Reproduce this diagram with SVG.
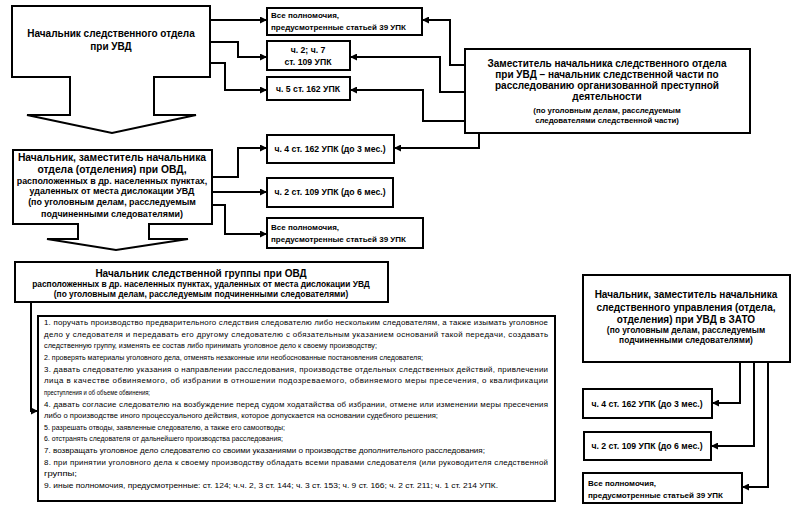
<svg xmlns="http://www.w3.org/2000/svg" width="800" height="517" viewBox="0 0 800 517">
<style>
.box{fill:#fff;stroke:#000;stroke-width:2}
.conn{fill:none;stroke:#000;stroke-width:2;marker-end:url(#ah)}
text{font-family:"Liberation Sans",Arial,sans-serif;font-weight:bold;fill:#000}
.title{font-size:10px;text-anchor:middle}
.sub{font-size:7.8px;text-anchor:middle}
.sm{font-size:8px}
.smc{font-size:8.7px;text-anchor:middle}
.list{font-size:7.9px;font-weight:normal}
</style>
<defs>
<marker id="ah" viewBox="0 0 10 10" refX="10" refY="5" markerWidth="8" markerHeight="7" markerUnits="userSpaceOnUse" orient="auto"><path d="M0,0 L10,5 L0,10 Z" fill="#000"/></marker>
</defs>
<rect width="800" height="517" fill="#fff"/>

<g id="connectors">
<path class="conn" d="M210,20 H267"/>
<path class="conn" d="M210,42 H238 V57 H267"/>
<path class="conn" d="M210,63 H225 V90 H267"/>
<path class="conn" d="M465,65 H450 V20 H422"/>
<path class="conn" d="M465,92 H440 V57 H350"/>
<path class="conn" d="M465,121 H423 V90 H350"/>
<path class="conn" d="M479,133 V148 H394"/>
<path class="conn" d="M212,177 H238 V148 H267"/>
<path class="conn" d="M212,192 H267"/>
<path class="conn" d="M212,205 H225 V234 H267"/>
<path class="conn" d="M31,302 V411 H38"/>
<path class="conn" d="M740,362 V403 H712"/>
<path class="conn" d="M754,362 V446 H711"/>
<path class="conn" d="M768,362 V487 H742"/>
</g>

<g id="node-head">
<path class="box" d="M12,6 H210 V77 H154 V115 H196 L112,133 L27,115 H70 V77 H12 Z"/>
<text class="title" x="111" y="37">Начальник следственного отдела</text>
<text class="title" x="111" y="50">при УВД</text>
</g>

<g id="node-all1">
<rect class="box" x="267" y="8" width="155" height="27"/>
<text class="sm" x="271" y="18">Все полномочия,</text>
<text class="sm" x="271" y="30">предусмотренные статьей 39 УПК</text>
</g>
<g id="node-109a">
<rect class="box" x="267" y="41" width="83" height="29"/>
<text class="smc" x="308" y="53">ч. 2; ч. 7</text>
<text class="smc" x="308" y="65">ст. 109 УПК</text>
</g>
<g id="node-162a">
<rect class="box" x="267" y="77" width="83" height="23"/>
<text class="smc" x="308" y="92">ч. 5 ст. 162 УПК</text>
</g>

<g id="node-deputy">
<rect class="box" x="465" y="49" width="285" height="84"/>
<text class="title" x="607" y="67">Заместитель начальника следственного отдела</text>
<text class="title" x="607" y="78">при УВД – начальник следственной части по</text>
<text class="title" x="607" y="89">расследованию организованной преступной</text>
<text class="title" x="607" y="100">деятельности</text>
<text class="sub" x="607" y="113">(по уголовным делам, расследуемым</text>
<text class="sub" x="607" y="123">следователями следственной части)</text>
</g>

<g id="node-ovd">
<path class="box" d="M13,150 H212 V224 H149 V239 H188 L116,250 L47,239 H78 V224 H13 Z"/>
<text class="title" x="112" y="161" style="font-size:10.3px">Начальник, заместитель начальника</text>
<text class="title" x="112" y="173" style="font-size:10.3px">отдела (отделения) при ОВД,</text>
<text class="sub" x="112" y="184" style="font-size:8.9px">расположенных в др. населенных пунктах,</text>
<text class="sub" x="112" y="194" style="font-size:8.9px">удаленных от места дислокации УВД</text>
<text class="sub" x="112" y="205" style="font-size:8.9px">(по уголовным делам, расследуемым</text>
<text class="sub" x="112" y="217" style="font-size:8.9px">подчиненными следователями)</text>
</g>

<g id="node-162b">
<rect class="box" x="267" y="135" width="127" height="28"/>
<text class="smc" x="330" y="152">ч. 4 ст. 162 УПК (до 3 мес.)</text>
</g>
<g id="node-109b">
<rect class="box" x="267" y="178" width="126" height="29"/>
<text class="smc" x="330" y="195">ч. 2 ст. 109 УПК (до 6 мес.)</text>
</g>
<g id="node-all2">
<rect class="box" x="267" y="218" width="156" height="30"/>
<text class="sm" x="271" y="230">Все полномочия,</text>
<text class="sm" x="271" y="242">предусмотренные статьей 39 УПК</text>
</g>

<g id="node-group">
<rect class="box" x="15" y="262" width="373" height="40"/>
<text class="title" x="201" y="277">Начальник следственной группы при ОВД</text>
<text class="sub" x="201" y="287" style="font-size:8.4px">расположенных в др. населенных пунктах, удаленных от места дислокации УВД</text>
<text class="sub" x="201" y="297" style="font-size:8.4px">(по уголовным делам, расследуемым подчиненными следователями)</text>
</g>

<g id="node-list">
<rect class="box" x="38" y="316" width="517" height="185"/>
<text class="list" x="44" y="325" textLength="504" lengthAdjust="spacing">1.  поручать производство предварительного следствия следователю либо нескольким следователям, а также изымать уголовное</text>
<text class="list" x="44" y="336.6" textLength="504" lengthAdjust="spacing">дело у следователя и передавать его другому следователю с обязательным указанием оснований такой передачи, создавать</text>
<text class="list" x="44" y="348.3" textLength="333" lengthAdjust="spacingAndGlyphs">следственную группу, изменять ее состав либо принимать уголовное дело к своему производству;</text>
<text class="list" x="44" y="359.9" textLength="379" lengthAdjust="spacingAndGlyphs">2.  проверять материалы уголовного дела, отменять незаконные или необоснованные постановления следователя;</text>
<text class="list" x="44" y="371.6" textLength="504" lengthAdjust="spacing">3.  давать следователю указания о направлении расследования, производстве отдельных следственных действий, привлечении</text>
<text class="list" x="44" y="383.2" textLength="504" lengthAdjust="spacing">лица в качестве обвиняемого, об избрании в отношении подозреваемого, обвиняемого меры пресечения, о квалификации</text>
<text class="list" x="44" y="394.8" textLength="106" lengthAdjust="spacingAndGlyphs">преступления и об объеме обвинения;</text>
<text class="list" x="44" y="406.5" textLength="504" lengthAdjust="spacing">4.  давать согласие следователю на возбуждение перед судом ходатайства об избрании, отмене или изменении меры пресечения</text>
<text class="list" x="44" y="418.1" textLength="394" lengthAdjust="spacingAndGlyphs">либо о производстве иного процессуального действия, которое допускается на основании судебного решения;</text>
<text class="list" x="44" y="429.8" textLength="241" lengthAdjust="spacingAndGlyphs">5.  разрешать отводы, заявленные следователю, а также его самоотводы;</text>
<text class="list" x="44" y="441.4" textLength="239" lengthAdjust="spacingAndGlyphs">6.  отстранять следователя от дальнейшего производства расследования;</text>
<text class="list" x="44" y="453" textLength="441" lengthAdjust="spacingAndGlyphs">7.  возвращать уголовное дело следователю со своими указаниями о производстве дополнительного расследования;</text>
<text class="list" x="44" y="464.7" textLength="504" lengthAdjust="spacing">8.  при принятии уголовного дела к своему производству обладать всеми правами следователя (или руководителя следственной</text>
<text class="list" x="44" y="476.3" textLength="33" lengthAdjust="spacingAndGlyphs">группы;</text>
<text class="list" x="44" y="488" textLength="454" lengthAdjust="spacingAndGlyphs">9.  иные полномочия, предусмотренные: ст. 124; ч.ч. 2, 3 ст. 144; ч. 3 ст. 153; ч. 9 ст. 166; ч. 2 ст. 211; ч. 1 ст. 214 УПК.</text>
</g>

<g id="node-zato">
<rect class="box" x="583" y="275" width="207" height="87"/>
<text class="title" x="686" y="298">Начальник, заместитель начальника</text>
<text class="title" x="686" y="311">следственного управления (отдела,</text>
<text class="title" x="686" y="323">отделения) при УВД в ЗАТО</text>
<text class="sub" x="686" y="333" style="font-size:8.4px">(по уголовным делам, расследуемым</text>
<text class="sub" x="686" y="343" style="font-size:8.4px">подчиненными следователями)</text>
</g>

<g id="node-162c">
<rect class="box" x="583" y="389" width="129" height="29"/>
<text class="smc" x="647" y="407">ч. 4 ст. 162 УПК (до 3 мес.)</text>
</g>
<g id="node-109c">
<rect class="box" x="584" y="432" width="127" height="28"/>
<text class="smc" x="647" y="449">ч. 2 ст. 109 УПК (до 6 мес.)</text>
</g>
<g id="node-all3">
<rect class="box" x="583" y="473" width="159" height="30"/>
<text class="sm" x="588" y="486">Все полномочия,</text>
<text class="sm" x="588" y="498">предусмотренные статьей 39 УПК</text>
</g>
</svg>
